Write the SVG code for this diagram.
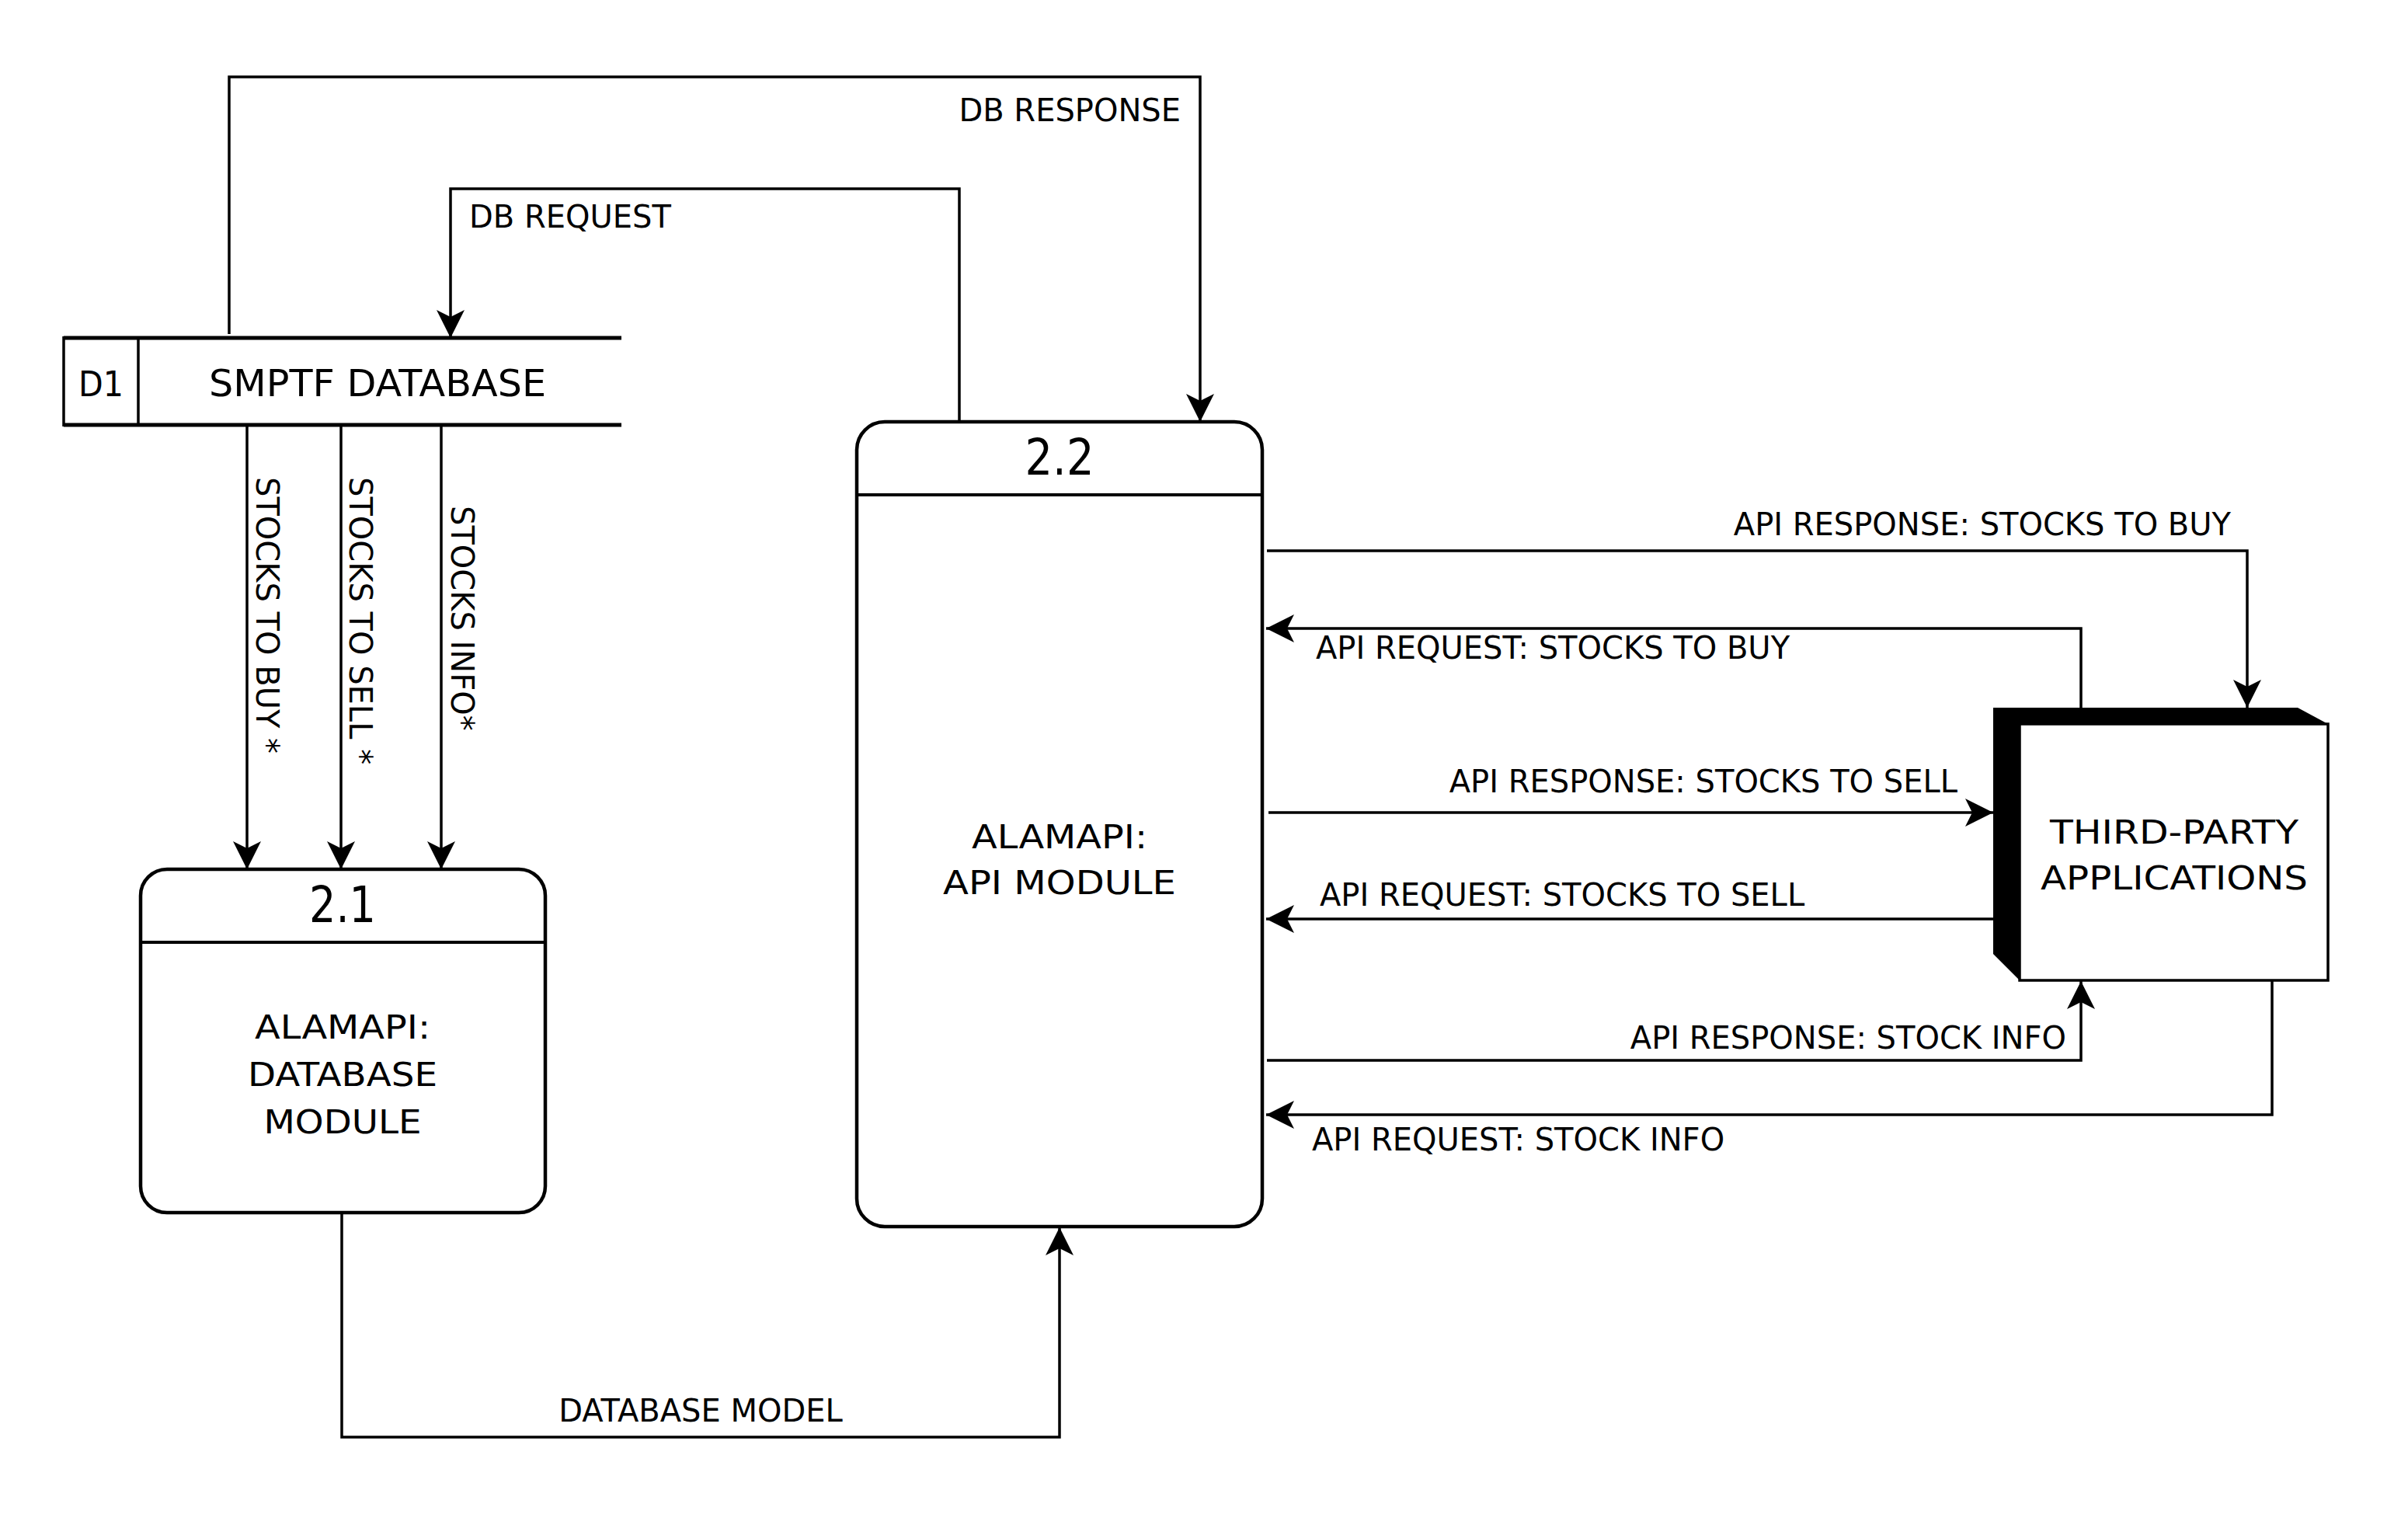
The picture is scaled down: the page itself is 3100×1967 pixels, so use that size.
<svg xmlns="http://www.w3.org/2000/svg" width="3100" height="1967" viewBox="0 0 3100 1967">
<style>
text{font-family:"DejaVu Sans","Liberation Sans",sans-serif;fill:#000}
.lbl{font-size:40px}
.node{font-size:43px}
.num{font-size:64px}
.conn{fill:none;stroke:#000;stroke-width:3.5}
.box{fill:#fff;stroke:#000;stroke-width:4.5}
</style>
<defs>
<marker id="arr" markerUnits="userSpaceOnUse" viewBox="0 0 36 36" markerWidth="36" markerHeight="36" refX="36" refY="18" orient="auto">
<path d="M0,0 L36,18 L0,36 L9,18 Z" fill="#000"/>
</marker>
</defs>
<rect width="3100" height="1967" fill="#fff"/>

<g id="connectors">
<path class="conn" d="M295,430 L295,99 L1545,99 L1545,543" marker-end="url(#arr)"/>
<text class="lbl" x="1520" y="156" text-anchor="end">DB RESPONSE</text>
<path class="conn" d="M1235,543 L1235,243 L580,243 L580,435" marker-end="url(#arr)"/>
<text class="lbl" x="604" y="293">DB REQUEST</text>

<path class="conn" d="M318,547 L318,1119" marker-end="url(#arr)"/>
<path class="conn" d="M439,547 L439,1119" marker-end="url(#arr)"/>
<path class="conn" d="M568,547 L568,1119" marker-end="url(#arr)"/>
<text class="lbl" transform="translate(330,614) rotate(90)">STOCKS TO BUY *</text>
<text class="lbl" transform="translate(450,614) rotate(90)">STOCKS TO SELL *</text>
<text class="lbl" transform="translate(581,651) rotate(90)">STOCKS INFO*</text>

<path class="conn" d="M440,1561 L440,1850 L1364,1850 L1364,1580" marker-end="url(#arr)"/>
<text class="lbl" x="902" y="1830" text-anchor="middle">DATABASE MODEL</text>

<path class="conn" d="M1631,709 L2893,709 L2893,911" marker-end="url(#arr)"/>
<text class="lbl" x="2872" y="689" text-anchor="end">API RESPONSE: STOCKS TO BUY</text>
<path class="conn" d="M2679,911 L2679,809 L1630,809" marker-end="url(#arr)"/>
<text class="lbl" x="1694" y="848">API REQUEST: STOCKS TO BUY</text>
<path class="conn" d="M1633,1046 L2566,1046" marker-end="url(#arr)"/>
<text class="lbl" x="2520" y="1020" text-anchor="end">API RESPONSE: STOCKS TO SELL</text>
<path class="conn" d="M2566,1183 L1630,1183" marker-end="url(#arr)"/>
<text class="lbl" x="1699" y="1166">API REQUEST: STOCKS TO SELL</text>
<path class="conn" d="M1631,1365 L2679,1365 L2679,1263" marker-end="url(#arr)"/>
<text class="lbl" x="2660" y="1350" text-anchor="end">API RESPONSE: STOCK INFO</text>
<path class="conn" d="M2925,1262 L2925,1435 L1630,1435" marker-end="url(#arr)"/>
<text class="lbl" x="1689" y="1481">API REQUEST: STOCK INFO</text>
</g>

<g id="d1">
<line x1="82" y1="435" x2="800" y2="435" stroke="#000" stroke-width="5"/>
<line x1="82" y1="547" x2="800" y2="547" stroke="#000" stroke-width="5"/>
<line x1="82" y1="433" x2="82" y2="549" stroke="#000" stroke-width="3.5"/>
<line x1="178" y1="435" x2="178" y2="547" stroke="#000" stroke-width="3.5"/>
<text x="130" y="510" font-size="44" text-anchor="middle" textLength="58" lengthAdjust="spacingAndGlyphs">D1</text>
<text x="486" y="510" font-size="48" text-anchor="middle" textLength="434" lengthAdjust="spacingAndGlyphs">SMPTF DATABASE</text>
</g>

<g id="p21">
<rect class="box" x="181" y="1119" width="521" height="442" rx="34"/>
<line x1="181" y1="1213" x2="702" y2="1213" stroke="#000" stroke-width="4"/>
<text class="num" x="441" y="1187" text-anchor="middle" textLength="86" lengthAdjust="spacingAndGlyphs">2.1</text>
<text class="node" x="441" y="1337" text-anchor="middle" textLength="226" lengthAdjust="spacingAndGlyphs">ALAMAPI:</text>
<text class="node" x="441" y="1398" text-anchor="middle" textLength="244" lengthAdjust="spacingAndGlyphs">DATABASE</text>
<text class="node" x="441" y="1459" text-anchor="middle" textLength="203" lengthAdjust="spacingAndGlyphs">MODULE</text>
</g>

<g id="p22">
<rect class="box" x="1103" y="543" width="522" height="1036" rx="36"/>
<line x1="1103" y1="637" x2="1625" y2="637" stroke="#000" stroke-width="4"/>
<text class="num" x="1364" y="611" text-anchor="middle" textLength="89" lengthAdjust="spacingAndGlyphs">2.2</text>
<text class="node" x="1364" y="1092" text-anchor="middle" textLength="226" lengthAdjust="spacingAndGlyphs">ALAMAPI:</text>
<text class="node" x="1364" y="1151" text-anchor="middle" textLength="300" lengthAdjust="spacingAndGlyphs">API MODULE</text>
</g>

<g id="ext">
<polygon points="2566,911 2958,911 2997,932 2997,1262 2600,1262 2566,1228" fill="#000"/>
<rect x="2600" y="932" width="397" height="330" fill="#fff" stroke="#000" stroke-width="3.5"/>
<text class="node" x="2799" y="1086" text-anchor="middle" textLength="320" lengthAdjust="spacingAndGlyphs">THIRD-PARTY</text>
<text class="node" x="2799" y="1145" text-anchor="middle" textLength="344" lengthAdjust="spacingAndGlyphs">APPLICATIONS</text>
</g>
</svg>
